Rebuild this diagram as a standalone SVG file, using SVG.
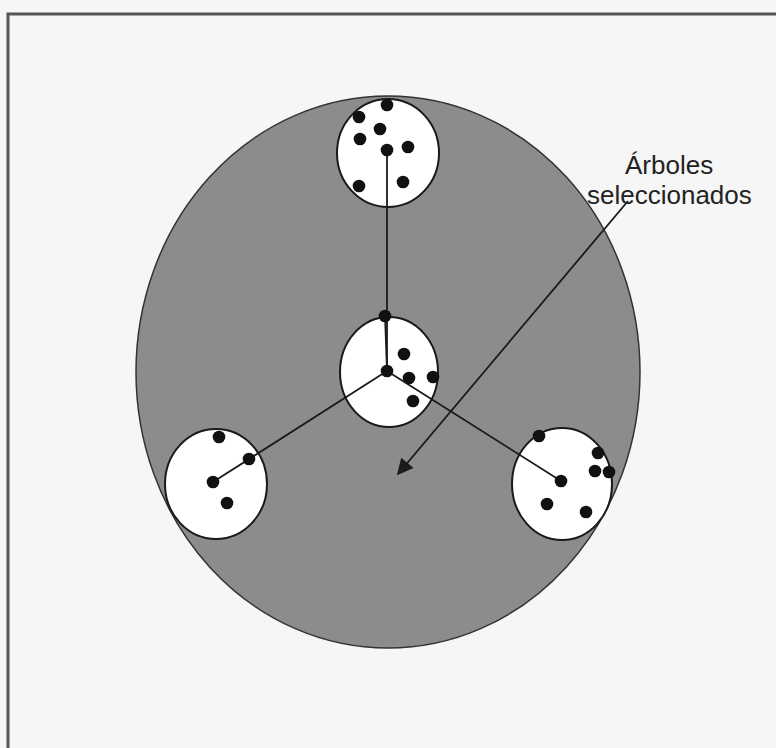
<svg xmlns="http://www.w3.org/2000/svg" width="776" height="748" viewBox="0 0 776 748">
<style>
.plot{fill:#ffffff;stroke:#1a1a1a;stroke-width:2}
.tree{fill:#111111}
.link{stroke:#1a1a1a;stroke-width:1.8;fill:none}
.lbl{font-family:"Liberation Sans",Arial,sans-serif;font-size:26px;fill:#222222}
</style>
<defs>
<marker id="ah" viewBox="0 0 10 10" refX="9" refY="5" markerWidth="10" markerHeight="9" markerUnits="strokeWidth" orient="auto">
<path d="M0,0 L10,5 L0,10 z" fill="#1a1a1a"/>
</marker>
</defs>
<rect x="0" y="0" width="776" height="748" fill="#f6f6f6"/>
<path d="M8,748 L8,14 L776,14" fill="none" stroke="#555555" stroke-width="3"/>
<g id="stand">
<ellipse cx="388" cy="372" rx="252" ry="276" fill="#8c8c8c" stroke="#333333" stroke-width="1.5"/>
</g>
<g id="plot-top">
<ellipse class="plot" cx="388" cy="153" rx="51" ry="54"/>
</g>
<g id="plot-center">
<ellipse class="plot" cx="389" cy="372" rx="49" ry="55"/>
</g>
<g id="plot-left">
<ellipse class="plot" cx="216" cy="484" rx="51" ry="55"/>
</g>
<g id="plot-right">
<ellipse class="plot" cx="562" cy="484" rx="50" ry="56"/>
</g>
<g id="connectors">
<line class="link" x1="387" y1="150" x2="387" y2="371"/>
<line class="link" x1="387" y1="371" x2="385" y2="315"/>
<line class="link" x1="387" y1="371" x2="213" y2="482"/>
<line class="link" x1="387" y1="371" x2="561" y2="481"/>
<line class="link" x1="628" y1="201" x2="398" y2="474" marker-end="url(#ah)"/>
</g>
<g id="trees">
<circle class="tree" cx="387" cy="105" r="6.3"/>
<circle class="tree" cx="359" cy="117" r="6.3"/>
<circle class="tree" cx="380" cy="129" r="6.3"/>
<circle class="tree" cx="360" cy="139" r="6.3"/>
<circle class="tree" cx="387" cy="150" r="6.3"/>
<circle class="tree" cx="408" cy="147" r="6.3"/>
<circle class="tree" cx="359" cy="186" r="6.3"/>
<circle class="tree" cx="403" cy="182" r="6.3"/>
<circle class="tree" cx="385" cy="316" r="6.3"/>
<circle class="tree" cx="404" cy="354" r="6.3"/>
<circle class="tree" cx="387" cy="371" r="6.3"/>
<circle class="tree" cx="409" cy="378" r="6.3"/>
<circle class="tree" cx="433" cy="377" r="6.3"/>
<circle class="tree" cx="413" cy="401" r="6.3"/>
<circle class="tree" cx="219" cy="437" r="6.3"/>
<circle class="tree" cx="249" cy="459" r="6.3"/>
<circle class="tree" cx="213" cy="482" r="6.3"/>
<circle class="tree" cx="227" cy="503" r="6.3"/>
<circle class="tree" cx="539" cy="436" r="6.3"/>
<circle class="tree" cx="598" cy="453" r="6.3"/>
<circle class="tree" cx="595" cy="471" r="6.3"/>
<circle class="tree" cx="609" cy="472" r="6.3"/>
<circle class="tree" cx="561" cy="481" r="6.3"/>
<circle class="tree" cx="547" cy="504" r="6.3"/>
<circle class="tree" cx="586" cy="512" r="6.3"/>
</g>
<g id="label">
<text class="lbl" x="625" y="174">Árboles</text>
<text class="lbl" x="587" y="204">seleccionados</text>
</g>
</svg>
